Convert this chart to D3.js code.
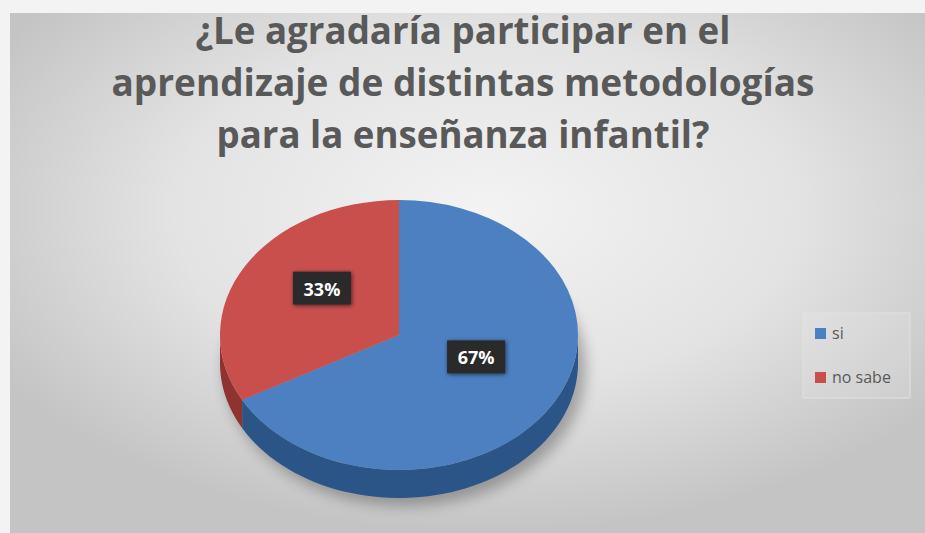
<!DOCTYPE html>
<html>
<head>
<meta charset="utf-8">
<script src="https://cdn.jsdelivr.net/npm/d3@7"></script>
<style>
  body { margin: 0; background: #f3f3f3; }
  svg { display: block; }
</style>
</head>
<body>
<div id="chart"></div>
<script>
// data
var categories = ["si", "no sabe"];
var values = [67, 33];
var labels = ["67%", "33%"];
var titleLines = ["¿Le agradaría participar en el",
                  "aprendizaje de distintas metodologías",
                  "para la enseñanza infantil?"];

var w = 925, h = 533;
var topColors = ["#4c80c0", "#c84f4c"];
var sideColors = ["#2b5587", "#8f3331"];

var svg = d3.select("#chart").append("svg")
    .attr("width", w)
    .attr("height", h);

var defs = svg.append("defs");

// background gradient of the plot frame
var bg = defs.append("radialGradient")
    .attr("id", "bg")
    .attr("cx", "52%").attr("cy", "38%").attr("r", "62%");
bg.append("stop").attr("offset", "0%").attr("stop-color", "#f3f3f3");
bg.append("stop").attr("offset", "55%").attr("stop-color", "#e3e3e3");
bg.append("stop").attr("offset", "100%").attr("stop-color", "#c4c4c4");

defs.append("filter").attr("id", "blur")
    .attr("x", "-20%").attr("y", "-20%").attr("width", "140%").attr("height", "140%")
    .append("feGaussianBlur").attr("stdDeviation", 7);

var lblShadow = defs.append("filter").attr("id", "lblshadow")
    .attr("x", "-30%").attr("y", "-30%").attr("width", "160%").attr("height", "160%");
lblShadow.append("feDropShadow")
    .attr("dx", 1).attr("dy", 1).attr("stdDeviation", 2)
    .attr("flood-color", "#000").attr("flood-opacity", 0.6);

svg.append("rect")
    .attr("x", 10).attr("y", 13)
    .attr("width", w - 10).attr("height", h - 13)
    .attr("fill", "url(#bg)");

// title
var titleSizes = [535, 703, 493];
svg.selectAll("text.title")
    .data(titleLines)
    .enter().append("text")
    .attr("class", "title")
    .text(function(d) { return d; })
    .attr("x", 463)
    .attr("y", function(d, i) { return 44 + i * 52; })
    .attr("text-anchor", "middle")
    .attr("textLength", function(d, i) { return titleSizes[i]; })
    .attr("lengthAdjust", "spacingAndGlyphs")
    .attr("font-family", "'Open Sans', sans-serif")
    .attr("font-weight", "bold")
    .attr("font-size", "38px")
    .attr("fill", "#595959");

// 3d pie
var cx = 399, cy = 335, rx = 179, ry = 135, depth = 28;
var pie = d3.pie().sort(null)(values);

function pt(a, dy) {
    return [cx + rx * Math.sin(a), cy - ry * Math.cos(a) + (dy || 0)];
}

// shadow
svg.append("ellipse")
    .attr("cx", cx + 6).attr("cy", cy + depth + 6)
    .attr("rx", rx + 2).attr("ry", ry + 2)
    .attr("fill", "#000").attr("opacity", 0.28)
    .attr("filter", "url(#blur)");

// side walls, front half only
var sides = svg.append("g");
pie.forEach(function(d, i) {
    var a0 = Math.max(d.startAngle, Math.PI / 2);
    var a1 = Math.min(d.endAngle, 3 * Math.PI / 2);
    if (a1 <= a0) return;
    var p = d3.path();
    var n = 60, k, q;
    q = pt(a0);
    p.moveTo(q[0], q[1]);
    for (k = 1; k <= n; k++) {
        q = pt(a0 + (a1 - a0) * k / n);
        p.lineTo(q[0], q[1]);
    }
    for (k = n; k >= 0; k--) {
        q = pt(a0 + (a1 - a0) * k / n, depth);
        p.lineTo(q[0], q[1]);
    }
    p.closePath();
    sides.append("path")
        .attr("d", p.toString())
        .attr("fill", sideColors[i]);
});

// top faces: arcs squashed into the ellipse
var arc = d3.arc().innerRadius(0).outerRadius(rx);
var topFace = svg.append("g")
    .attr("transform", "translate(" + cx + "," + cy + ") scale(1," + (ry / rx) + ")");
topFace.selectAll("path")
    .data(pie)
    .enter().append("path")
    .attr("d", arc)
    .attr("fill", function(d, i) { return topColors[i]; });

// data labels
var lift = 12;
var lbl = svg.selectAll("g.lbl")
    .data(pie)
    .enter().append("g")
    .attr("class", "lbl")
    .attr("transform", function(d) {
        var c = arc.centroid(d);
        return "translate(" + (cx + c[0]) + "," + (cy + c[1] * ry / rx - lift) + ")";
    });
lbl.append("rect")
    .attr("x", -29).attr("y", -17)
    .attr("width", 58).attr("height", 33)
    .attr("fill", "#2a2a2a")
    .attr("filter", "url(#lblshadow)");
lbl.append("text")
    .text(function(d, i) { return labels[i]; })
    .attr("text-anchor", "middle")
    .attr("y", 7)
    .attr("font-family", "'Open Sans', sans-serif")
    .attr("font-weight", "bold")
    .attr("font-size", "18px")
    .attr("fill", "#ffffff");

// legend
svg.append("rect")
    .attr("x", 803).attr("y", 313)
    .attr("width", 107).attr("height", 85)
    .attr("fill", "#ffffff").attr("fill-opacity", 0.12)
    .attr("stroke", "#e2e2e2");
var leg = svg.selectAll("g.leg")
    .data(categories)
    .enter().append("g")
    .attr("class", "leg")
    .attr("transform", function(d, i) { return "translate(815," + (328 + i * 44) + ")"; });
leg.append("rect")
    .attr("width", 11).attr("height", 11)
    .attr("fill", function(d, i) { return topColors[i]; });
leg.append("text")
    .text(function(d) { return d; })
    .attr("x", 17).attr("y", 11)
    .attr("font-family", "'Open Sans', sans-serif")
    .attr("font-size", "16px")
    .attr("fill", "#595959");
</script>
</body>
</html>
